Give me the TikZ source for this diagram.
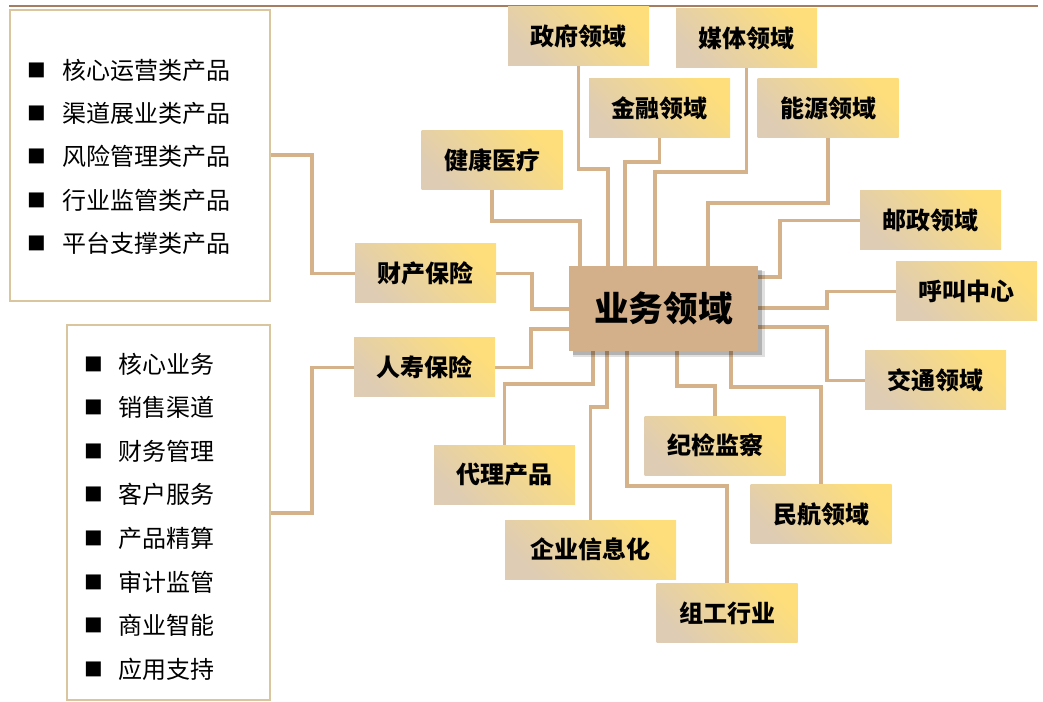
\documentclass[tikz,border=0pt]{standalone}
\usepackage{fontspec}
\setmainfont{Noto Sans CJK SC}
\usetikzlibrary{shadows,backgrounds}
\definecolor{conncol}{RGB}{214,178,138}
\definecolor{boxcol}{RGB}{218,198,158}
\definecolor{centercol}{RGB}{212,176,138}
\definecolor{domlow}{RGB}{222,204,180}
\definecolor{domhigh}{RGB}{254,222,122}
\definecolor{topline}{RGB}{166,126,95}
\begin{document}
\begin{tikzpicture}[x=0.75pt,y=-0.75pt,
  dom/.style={minimum width=105.75pt, minimum height=44.25pt, inner sep=0pt,
    font=\fontsize{18}{20}\selectfont\bfseries,
    bottom color=domlow, top color=domhigh, shading angle=-45},
  center/.style={minimum width=141.75pt, minimum height=63.75pt, inner sep=0pt,
    fill=centercol, font=\fontsize{26}{30}\selectfont\bfseries,
    general shadow={shadow xshift=4pt, shadow yshift=-4pt, opacity=0.12, fill=black, shadow scale=1.02},
    general shadow={shadow xshift=3pt, shadow yshift=-3pt, opacity=0.2, fill=black}},
  conn/.style={draw=conncol, line width=2.5pt},
  lbox/.style={draw=boxcol, line width=1.5pt, fill=white, inner sep=0pt},
  item/.style={anchor=west, inner sep=0pt, font=\fontsize{18}{20}\selectfont},
  bul/.style={inner sep=0pt, font=\fontsize{14}{16}\selectfont}]
\useasboundingbox (0,0) rectangle (1043,702);
% top rule
\coordinate (tl) at (9,6);
\coordinate (tr) at (1038,6);
\draw[topline, line width=2pt] (tl) -- (tr);

% left boxes
\node[lbox, minimum width=195pt, minimum height=218.25pt] (b1) at (140,155.5) {};
\node[lbox, minimum width=152.25pt, minimum height=281.25pt] (b2) at (168.5,512.5) {};

% items of box 1
\foreach \t [count=\i] in {核心运营类产品,渠道展业类产品,风险管理类产品,行业监管类产品,平台支撑类产品}{
  \pgfmathsetmacro{\yy}{70+(\i-1)*43.4}
  \node[bul] (ba\i) at (37,\yy) {■};
  \node[item] (ta\i) at (62,\yy) {\t};
}
% items of box 2
\foreach \t [count=\i] in {核心业务,销售渠道,财务管理,客户服务,产品精算,审计监管,商业智能,应用支持}{
  \pgfmathsetmacro{\yy}{364+(\i-1)*43.6}
  \node[bul] (bb\i) at (94,\yy) {■};
  \node[item] (tb\i) at (118,\yy) {\t};
}

% center
\node[center] (c) at (663.5,308.5) {业务领域};

% domains
\node[dom] (zf) at (578.5,36.5) {政府领域};
\node[dom] (mt) at (746.5,38.5) {媒体领域};
\node[dom] (jr) at (659.5,108.5) {金融领域};
\node[dom] (ny) at (828,108) {能源领域};
\node[dom] (jk) at (492,160) {健康医疗};
\node[dom] (cc) at (425.5,273.5) {财产保险};
\node[dom] (rs) at (424.5,367.5) {人寿保险};
\node[dom] (dl) at (504.5,474.5) {代理产品};
\node[dom, minimum width=128.25pt] (qy) at (590.5,549.5) {企业信息化};
\node[dom] (jj) at (715,445.5) {纪检监察};
\node[dom] (zg) at (727,613) {组工行业};
\node[dom] (mh) at (821,514) {民航领域};
\node[dom] (yz) at (930.5,220.5) {邮政领域};
\node[dom] (hj) at (966.5,291.5) {呼叫中心};
\node[dom] (jt) at (935.5,380.5) {交通领域};

\begin{scope}[on background layer]
\draw[conn] (jk.south) |- (580,221) -- (c.north -| 580,0);
\draw[conn] (zf.south) |- (608,169) -- (c.north -| 608,0);
\draw[conn] (jr.south) |- (625,162) -- (c.north -| 625,0);
\draw[conn] (mt.south) |- (655,172) -- (c.north -| 655,0);
\draw[conn] (ny.south) |- (708,203) -- (c.north -| 708,0);
\draw[conn] (yz.west) -| (780,277) -- (c.east |- 0,277);
\draw[conn] (hj.west) -| (827,308) -- (c.east |- 0,308);
\draw[conn] (jt.west) -| (827,327) -- (c.east |- 0,327);
\draw[conn] (jj.north) |- (677,386) -- (c.south -| 677,0);
\draw[conn] (mh.north) |- (731,387) -- (c.south -| 731,0);
\draw[conn] (zg.north) |- (627,486) -- (c.south -| 627,0);
\draw[conn] (qy.north) |- (607,407) -- (c.south -| 607,0);
\draw[conn] (dl.north) |- (593,384) -- (c.south -| 593,0);
\draw[conn] (cc.east) -| (532,309) -- (c.west |- 0,309);
\draw[conn] (rs.east) -| (531,329) -- (c.west |- 0,329);
\draw[conn] (b1.east |- 0,155) -| (312,273.5) -- (cc.west);
\draw[conn] (b2.east |- 0,513) -| (312,367.5) -- (rs.west);
\end{scope}
\end{tikzpicture}
\end{document}
